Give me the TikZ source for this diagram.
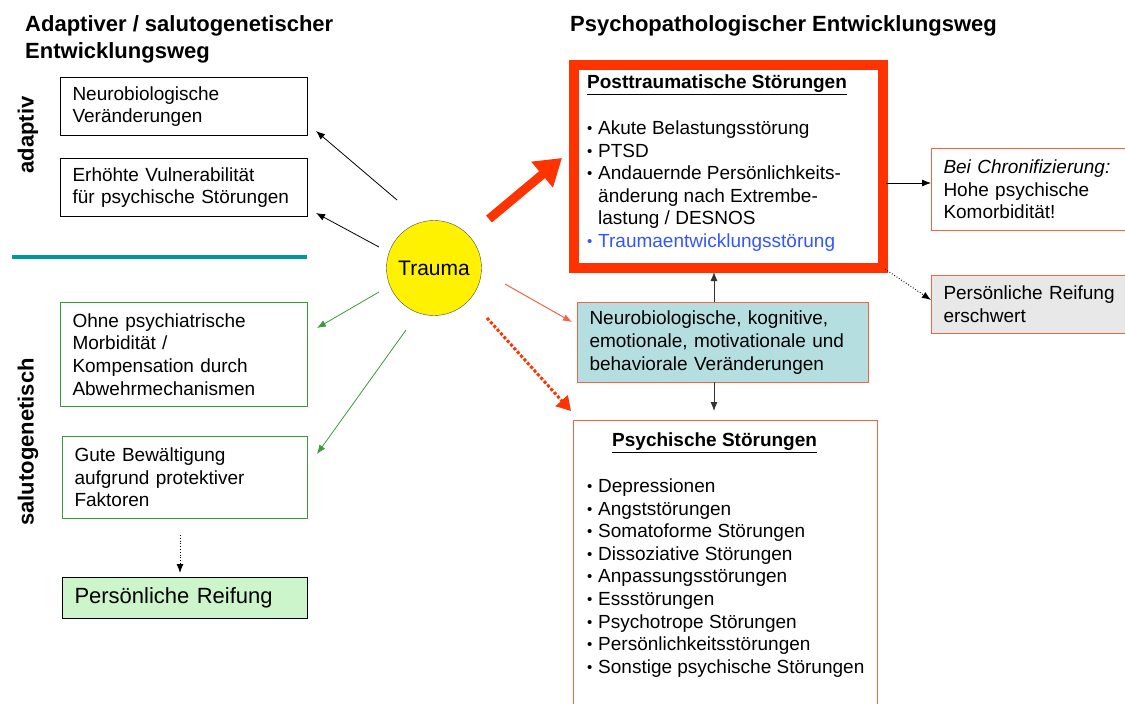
\documentclass[tikz,border=0pt]{standalone}
\usepackage{fontspec}
\setmainfont{Liberation Sans}
\usetikzlibrary{arrows.meta}
\definecolor{redB}{HTML}{FF3300}
\definecolor{redT}{HTML}{F26446}
\definecolor{tealL}{HTML}{009999}
\definecolor{grn}{HTML}{3C9A3C}
\definecolor{grnF}{HTML}{CCF5CC}
\definecolor{tealF}{HTML}{B5DEE0}
\definecolor{grayF}{HTML}{E8E8E8}
\definecolor{blueT}{HTML}{3355FF}
\newcommand{\bodyf}{\fontsize{19}{22.6}\selectfont}
\newcommand{\bul}{\makebox[11pt][l]{\raisebox{1pt}{\fontsize{15}{15}\selectfont•}}}
\begin{document}
\begin{tikzpicture}[x=1pt,y=-1pt,
  box/.style={draw, anchor=north west, inner xsep=12pt, inner ysep=0pt, align=left, font=\bodyf, line width=1pt},
  title/.style={anchor=base west, font=\fontsize{22}{26}\selectfont\bfseries, inner sep=0pt},
  side/.style={rotate=90, font=\fontsize{22}{26}\selectfont\bfseries, inner sep=0pt},
  arr/.style={-{Latex[length=9pt,width=7pt]}, line width=0.8pt},
]
\clip (0,0) rectangle (1125,704);
\fill[white] (0,0) rectangle (1125,704);

% titles
\node[title] (t1) at (25,31) {Adaptiver / salutogenetischer};
\node[title] (t1b) at (25,58) {Entwicklungsweg};
\node[title] (t2) at (570,31) {Psychopathologischer Entwicklungsweg};

\node[side] (adaptiv) at (28,135) {adaptiv};
\node[side] (saluto) at (28,442) {salutogenetisch};

\draw[tealL, line width=4pt] (12,257) -- (307,257);

% left boxes
\node[box, text width=223pt, minimum height=58pt] (neuro) at (60,77) {Neurobiologische\\Veränderungen};
\node[box, text width=223pt, minimum height=58pt] (vuln) at (60,158) {Erhöhte Vulnerabilität\\für psychische Störungen};
\node[box, draw=grn, text width=223pt, minimum height=104pt] (ohne) at (60,302) {Ohne psychiatrische\\Morbidität /\\Kompensation durch\\Abwehrmechanismen};
\node[box, draw=grn, text width=221pt, minimum height=82pt] (gute) at (62,436) {Gute Bewältigung\\aufgrund protektiver\\Faktoren};
\node[box, fill=grnF, text width=221pt, minimum height=41pt, font=\fontsize{22}{26}\selectfont] (reif) at (62,577) {Persönliche Reifung};

% trauma
\node[circle, draw=black!70, fill=yellow, minimum size=95pt, font=\fontsize{21}{24}\selectfont, inner sep=0pt] (trauma) at (434,268) {Trauma};

% right boxes
\node[draw=redB, line width=10pt, anchor=north west, minimum width=309pt, minimum height=203pt] (post) at (569,60) {};
\node[anchor=north west, align=left, font=\bodyf, inner sep=0pt] (posttext) at (587,75)
 {\textbf{\underline{Posttraumatische Störungen}}\\[23pt]
 \bul Akute Belastungsstörung\\
 \bul PTSD\\
 \bul Andauernde Persönlichkeits-\\
 \hphantom{\bul}änderung nach Extrembe-\\
 \hphantom{\bul}lastung / DESNOS\\
 \textcolor{blueT}{\bul Traumaentwicklungsstörung}};

\node[box, draw=redT, text width=200pt, minimum height=82pt] (chron) at (931,148) {\textit{Bei Chronifizierung:}\\Hohe psychische\\Komorbidität!};
\node[box, draw=redT, fill=grayF, text width=200pt, minimum height=58pt] (erschw) at (931,275) {Persönliche Reifung\\erschwert};

\node[box, draw=redT, fill=tealF, text width=267pt, minimum height=80pt] (neuro2) at (577,302) {Neurobiologische, kognitive,\\emotionale, motivationale und\\behaviorale Veränderungen};

\node[draw=redT, line width=1pt, anchor=north west, minimum width=304pt, minimum height=320pt] (psy) at (573,420) {};
\node[anchor=north west, align=left, font=\bodyf, inner sep=0pt] (psytext) at (587,433)
 {\hspace*{25pt}\textbf{\underline{Psychische Störungen}}\\[23pt]
 \bul Depressionen\\
 \bul Angststörungen\\
 \bul Somatoforme Störungen\\
 \bul Dissoziative Störungen\\
 \bul Anpassungsstörungen\\
 \bul Essstörungen\\
 \bul Psychotrope Störungen\\
 \bul Persönlichkeitsstörungen\\
 \bul Sonstige psychische Störungen};

% connector end points
\coordinate (a1s) at (397,200);  \coordinate (a1e) at (316,131);
\coordinate (a2s) at (379,247);  \coordinate (a2e) at (316,213);
\coordinate (g1s) at (379,292);  \coordinate (g1e) at (317,328);
\coordinate (g2s) at (406,330);  \coordinate (g2e) at (317,454);
\coordinate (ds) at (180,535);   \coordinate (de) at (180,573);
\coordinate (r1s) at (489,219);  \coordinate (r1e) at (562,158);
\coordinate (r2s) at (505,284);  \coordinate (r2e) at (572,322);
\coordinate (r3s) at (487,318);  \coordinate (r3e) at (571,411);
\coordinate (cs) at (886,183);   \coordinate (ce) at (931,183);
\coordinate (es) at (885,269);   \coordinate (ee) at (931,300);
\coordinate (us) at (714,302);   \coordinate (ue) at (714,272);
\coordinate (ws) at (714,382);   \coordinate (we) at (714,411);

\draw[arr] (a1s) -- (a1e);
\draw[arr] (a2s) -- (a2e);
\draw[arr, grn] (g1s) -- (g1e);
\draw[arr, grn] (g2s) -- (g2e);
\draw[arr, dotted, line width=1pt] (ds) -- (de);

\draw[redB, line width=9pt, -{Triangle[length=26pt,width=32pt]}] (r1s) -- (r1e);
\draw[arr, redT, line width=1pt] (r2s) -- (r2e);
\draw[redB, line width=3pt, dotted, -{Triangle[length=14pt,width=16pt]}] (r3s) -- (r3e);

\draw[arr] (cs) -- (ce);
\draw[arr, dotted, line width=1pt] (es) -- (ee);
\draw[arr, black!80] (us) -- (ue);
\draw[arr, black!80] (ws) -- (we);
\end{tikzpicture}
\end{document}
